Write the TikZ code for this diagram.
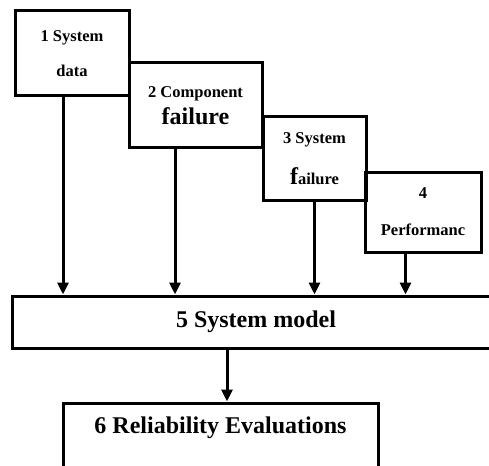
\documentclass[tikz,border=0pt]{standalone}
\usepackage{fontspec}
\setmainfont{Liberation Serif}
\usetikzlibrary{arrows.meta}
\tikzset{>={Triangle[width=11pt,length=12pt]}}
\tikzset{box/.style={draw, line width=3pt, inner sep=0pt, align=center, font=\bfseries\fontsize{16.5}{18}\selectfont},
    bigtxt/.style={font=\bfseries\fontsize{24}{26}\selectfont, inner sep=0pt}}

\begin{document}
\begin{tikzpicture}[x=1pt, y=-1pt, line width=3pt]
    \clip (0,0) rectangle (489,465);
    \node[box, minimum width=114pt, minimum height=85pt] (b1) at (72,53.5) {1 System\\[17pt]data};
    \node[box, minimum width=133pt, minimum height=85pt] (b2) at (195.5,105.5) {2 Component\\[6pt]{\fontsize{24}{26}\selectfont failure}};
    \node[box, minimum width=103pt, minimum height=83pt] (b3) at (314.5,158.5) {3 System\\[20pt]{\fontsize{24}{26}\selectfont f}ailure};
    \node[box, minimum width=116pt, minimum height=80pt] (b4) at (423,212) {4\\[19pt]Performanc};
    \node[box, minimum width=488pt, minimum height=52pt, font=\bfseries\fontsize{24}{26}\selectfont] (b5) at (256,322) {5 System model};
    \node[box, minimum width=315pt, minimum height=70pt] (b6) at (220.5,438) {};
    \node[bigtxt, anchor=base] (t6) at (220.5,433) {6 Reliability Evaluations};
    \draw[->] ([xshift=-9pt]b1.south) -- ([xshift=-9pt]b1.south |- b5.north);
    \draw[->] ([xshift=-20.5pt]b2.south) -- ([xshift=-20.5pt]b2.south |- b5.north);
    \draw[->] (b3.south) -- (b3.south |- b5.north);
    \draw[->] ([xshift=-17.5pt]b4.south) -- ([xshift=-17.5pt]b4.south |- b5.north);
    \draw[->] ([xshift=6.5pt]b6.north |- b5.south) -- ([xshift=6.5pt]b6.north);
\end{tikzpicture}
\end{document}
